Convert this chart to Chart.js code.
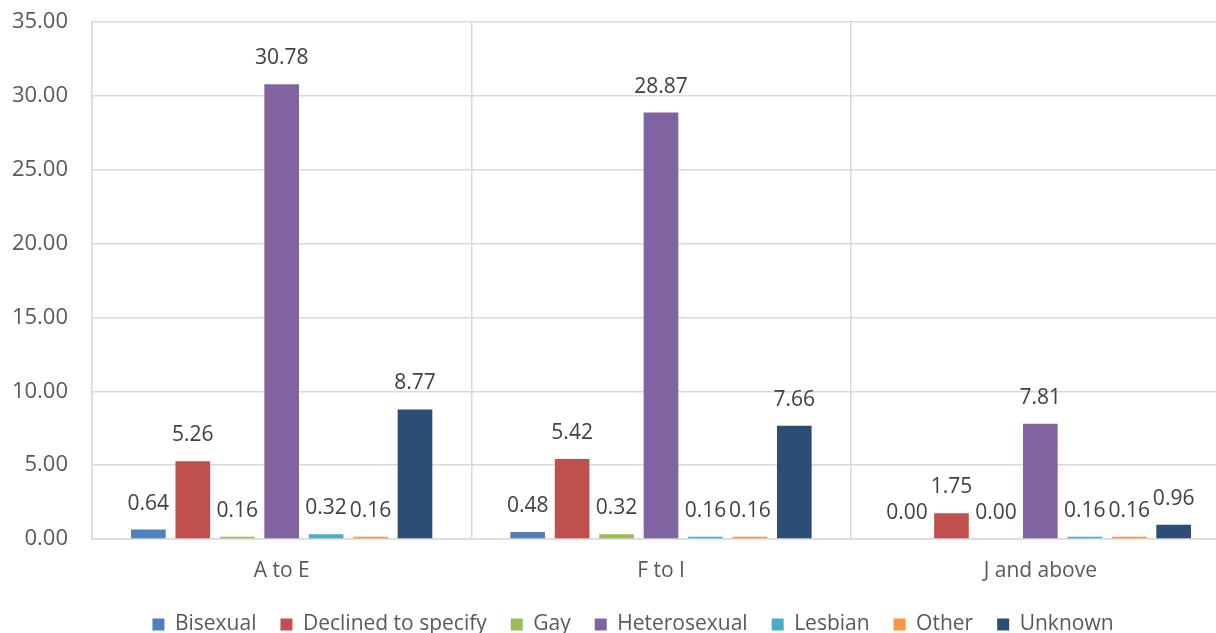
<!DOCTYPE html>
<html>
<head>
<meta charset="utf-8">
<script src="https://cdn.jsdelivr.net/npm/chart.js@4/dist/chart.umd.min.js"></script>
<style>
  html, body { margin: 0; padding: 0; background: #ffffff; overflow: hidden; }
  #wrap { width: 1266px; height: 633px; }
</style>
</head>
<body>
<div id="wrap"><canvas id="c" width="1266" height="633"></canvas></div>
<script>
// Pay bands and share (%) by sexual orientation
const categories = ['A to E', 'F to I', 'J and above'];
const seriesNames = ['Bisexual', 'Declined to specify', 'Gay', 'Heterosexual', 'Lesbian', 'Other', 'Unknown'];
const bisexual     = [0.64, 0.48, 0.00];
const declined     = [5.26, 5.42, 1.75];
const gay          = [0.16, 0.32, 0.00];
const heterosexual = [30.78, 28.87, 7.81];
const lesbian      = [0.32, 0.16, 0.16];
const other        = [0.16, 0.16, 0.16];
const unknown      = [8.77, 7.66, 0.96];
const yTicks = [0, 5, 10, 15, 20, 25, 30, 35];

const seriesValues = [bisexual, declined, gay, heterosexual, lesbian, other, unknown];
const colors = ['#4f81bd', '#c0504d', '#9bbb59', '#8064a2', '#4bacc6', '#f79646', '#2c4d75'];

const FONT = '"Open Sans", "Noto Sans", sans-serif';

// Writes each bar's value just above it
const valueLabels = {
  id: 'valueLabels',
  afterDatasetsDraw(chart) {
    const ctx = chart.ctx;
    ctx.save();
    ctx.font = '21px ' + FONT;
    ctx.fillStyle = '#404040';
    ctx.textAlign = 'center';
    ctx.textBaseline = 'middle';
    chart.data.datasets.forEach((ds, i) => {
      const meta = chart.getDatasetMeta(i);
      meta.data.forEach((el, j) => {
        ctx.fillText(ds.data[j].toFixed(2), el.x, el.y - 26);
      });
    });
    ctx.restore();
  }
};

// Value axis labels, right-aligned a fixed gap left of the plot edge
const yAxisLabels = {
  id: 'yAxisLabels',
  afterDraw(chart) {
    const ctx = chart.ctx;
    const y = chart.scales.y;
    ctx.save();
    ctx.font = '22px ' + FONT;
    ctx.fillStyle = '#595959';
    ctx.textAlign = 'right';
    ctx.textBaseline = 'middle';
    yTicks.forEach(v => {
      ctx.fillText(v.toFixed(2), chart.chartArea.left - 24, y.getPixelForValue(v));
    });
    ctx.restore();
  }
};

new Chart(document.getElementById('c'), {
  type: 'bar',
  data: {
    labels: categories,
    datasets: seriesNames.map((name, i) => ({
      label: name,
      data: seriesValues[i],
      backgroundColor: colors[i],
      borderWidth: 0,
      categoryPercentage: 0.82,
      barPercentage: 0.78
    }))
  },
  options: {
    responsive: false,
    animation: false,
    layout: { padding: { top: 22, right: 36, left: 36, bottom: -12 } },
    plugins: {
      tooltip: { enabled: false },
      legend: {
        position: 'bottom',
        labels: {
          font: { family: FONT, size: 21 },
          color: '#595959',
          boxWidth: 12,
          boxHeight: 12,
          padding: 24
        }
      }
    },
    scales: {
      x: {
        afterFit(scale) { scale.height = 51; },
        grid: { color: '#d9d9d9', lineWidth: 1.5, drawTicks: false, offset: true },
        border: { color: '#d9d9d9', width: 1.5 },
        ticks: { font: { family: FONT, size: 21 }, color: '#595959', padding: 19 }
      },
      y: {
        min: 0,
        max: 35,
        afterFit(scale) { scale.width = 56; },
        afterBuildTicks(scale) { scale.ticks = yTicks.map(v => ({ value: v })); },
        grid: { color: '#d9d9d9', lineWidth: 1.5, drawTicks: false },
        border: { color: '#d9d9d9', width: 1.5 },
        ticks: { display: false }
      }
    }
  },
  plugins: [valueLabels, yAxisLabels]
});
</script>
</body>
</html>
